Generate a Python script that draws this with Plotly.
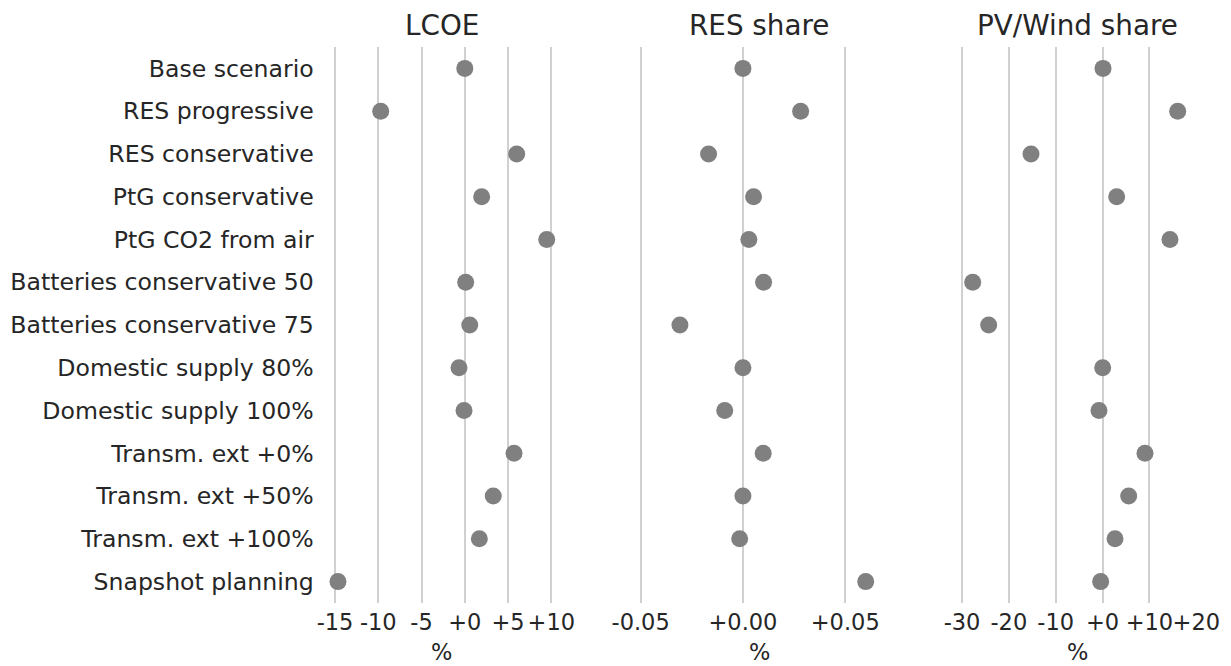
import plotly.graph_objects as go
from plotly.subplots import make_subplots

scenarios = [
    "Base scenario", "RES progressive", "RES conservative", "PtG conservative",
    "PtG CO2 from air", "Batteries conservative 50", "Batteries conservative 75",
    "Domestic supply 80%", "Domestic supply 100%", "Transm. ext +0%",
    "Transm. ext +50%", "Transm. ext +100%", "Snapshot planning",
]
lcoe = [0.0, -9.72, 6.0, 1.95, 9.47, 0.1, 0.57, -0.67, -0.09, 5.69, 3.29, 1.68, -14.66]
res_share = [0.0, 0.0282, -0.0168, 0.0052, 0.0029, 0.0101, -0.0308, 0.0, -0.0089,
             0.0099, 0.0, -0.0016, 0.060]
pv_wind_share = [0.09, 16.03, -15.28, 3.01, 14.38, -27.72, -24.31, 0.02, -0.77,
                 9.05, 5.57, 2.65, -0.41]

panel_titles = ["LCOE", "RES share", "PV/Wind share"]
axis_label = "%"
lcoe_tickvals = [-15, -10, -5, 0, 5, 10]
lcoe_ticktext = ["-15", "-10", "-5", "+0", "+5", "+10"]
res_tickvals = [-0.05, 0.0, 0.05]
res_ticktext = ["-0.05", "+0.00", "+0.05"]
pv_tickvals = [-30, -20, -10, 0, 10, 20]
pv_ticktext = ["-30", "-20", "-10", "+0", "+10", "+20"]

W, H = 1231, 666
L, R, T, B = 321, 34, 47, 63
pw = W - L - R

def dom(a, b):
    return [(a - L) / pw, (b - L) / pw]

domains = [dom(321.7, 561.7), dom(639, 879), dom(957, 1197)]
ranges = [[-16.54, 11.2], [-0.0508, 0.0665], [-31.07, 20.15]]
series = [lcoe, res_share, pv_wind_share]
ticks = [(lcoe_tickvals, lcoe_ticktext), (res_tickvals, res_ticktext),
         (pv_tickvals, pv_ticktext)]

font_family = "DejaVu Sans"
text_color = "#262626"

fig = make_subplots(rows=1, cols=3, shared_yaxes=True)
for i, vals in enumerate(series):
    fig.add_trace(go.Scatter(
        x=vals, y=scenarios, mode="markers",
        marker=dict(color="#808080", size=17, line=dict(width=0)),
        showlegend=False,
    ), row=1, col=i + 1)

for i in range(3):
    ax = "xaxis" if i == 0 else f"xaxis{i + 1}"
    tv, tt = ticks[i]
    fig.layout[ax].update(
        domain=domains[i], range=ranges[i], tickvals=tv, ticktext=tt,
        showgrid=True, gridcolor="#d0d0d0", gridwidth=1.6,
        zeroline=False, showline=False, ticks="",
        ticklabelstandoff=3, tickangle=0,
        tickfont=dict(family=font_family, size=22.5, color=text_color),
    )
    cx = (domains[i][0] + domains[i][1]) / 2
    fig.add_annotation(
        text=panel_titles[i], x=cx, y=(H - B - 25) / (H - T - B),
        xref="paper", yref="paper", showarrow=False,
        xanchor="center", yanchor="middle",
        font=dict(family=font_family, size=27.8, color=text_color),
    )
    fig.add_annotation(
        text=axis_label, x=cx, y=(H - B - 652) / (H - T - B),
        xref="paper", yref="paper", showarrow=False,
        xanchor="center", yanchor="middle",
        font=dict(family=font_family, size=22.5, color=text_color),
    )

for i in range(3):
    ay = "yaxis" if i == 0 else f"yaxis{i + 1}"
    fig.layout[ay].update(
        type="category", categoryorder="array", categoryarray=scenarios,
        range=[12.5, -0.5], showgrid=False, zeroline=False, showline=False,
        ticks="",
    )
fig.layout.yaxis.update(
    ticklabelstandoff=7,
    tickfont=dict(family=font_family, size=23.6, color=text_color),
)

fig.update_layout(
    width=W, height=H,
    margin=dict(l=L, r=R, t=T, b=B, autoexpand=False),
    plot_bgcolor="white", paper_bgcolor="white",
    font=dict(family=font_family, color=text_color),
)

fig.write_html("out.html")
